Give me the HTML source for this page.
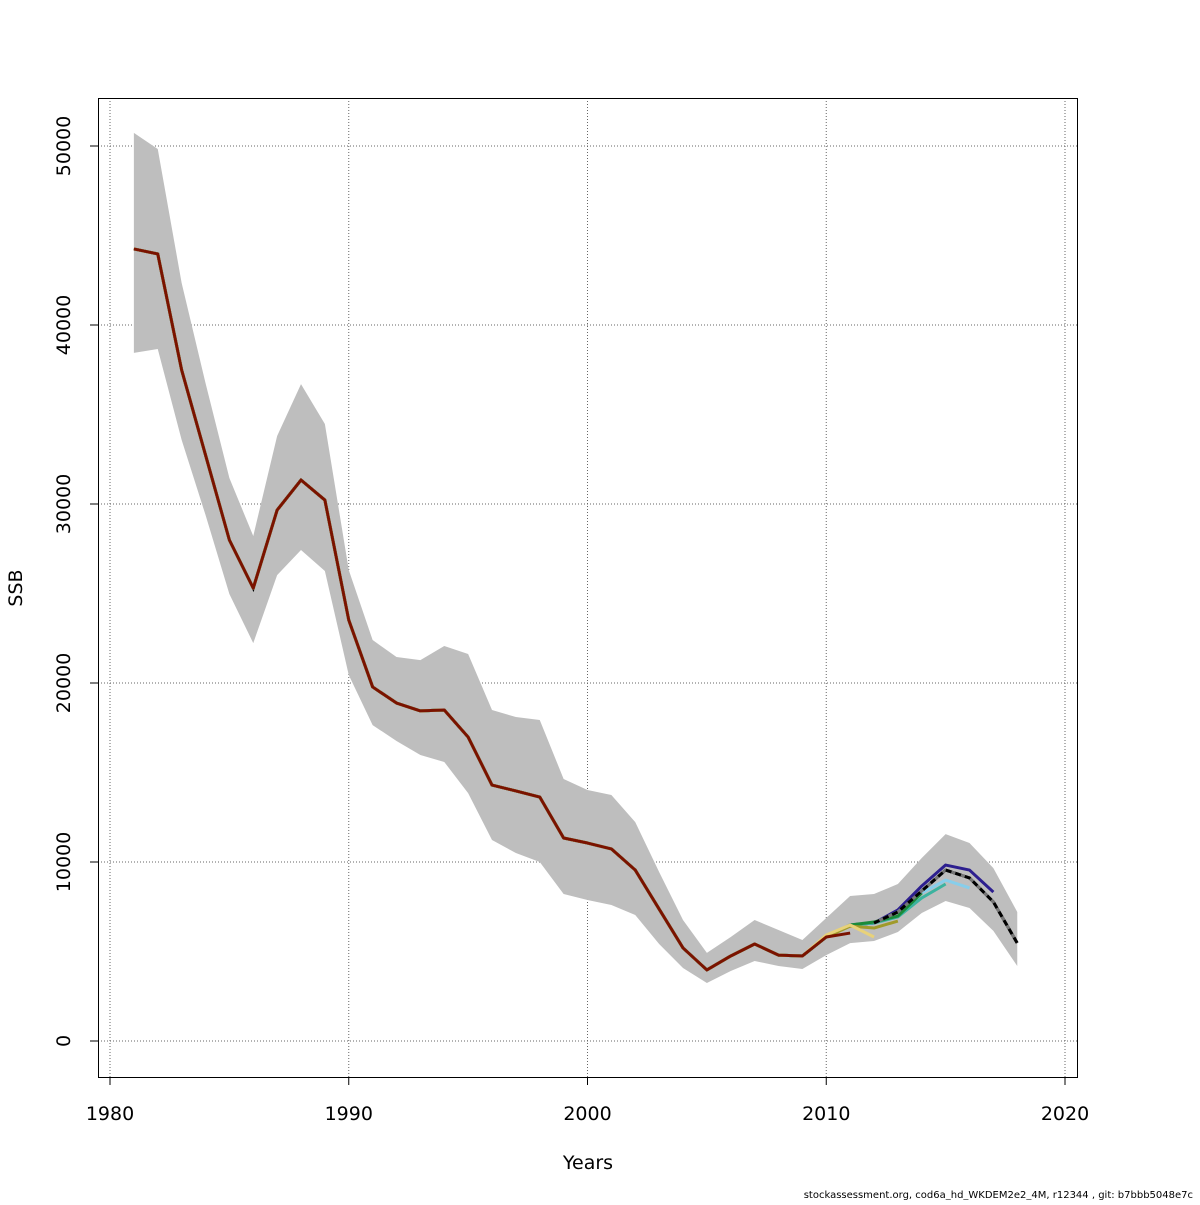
<!DOCTYPE html>
<html><head><meta charset="utf-8"><style>
body{margin:0;background:#fff}
svg text{font-family:"DejaVu Sans","Liberation Sans",sans-serif;fill:#000}
</style></head><body>
<svg id="chart" width="1200" height="1200" xmlns="http://www.w3.org/2000/svg">
<g id="grid"></g>
<g id="band"></g>
<g id="lines"></g>
<rect x="98.5" y="98.5" width="979" height="979" fill="none" stroke="#000" stroke-width="1"/>
<g id="axes"></g>
<text x="588" y="1169" font-size="19" text-anchor="middle">Years</text>
<text transform="translate(22,588) rotate(-90)" font-size="19" text-anchor="middle">SSB</text>
<text x="1193" y="1198" font-size="10" text-anchor="end">stockassessment.org, cod6a_hd_WKDEM2e2_4M, r12344 , git: b7bbb5048e7c</text>
</svg>
<script>
const years=[1981,1982,1983,1984,1985,1986,1987,1988,1989,1990,1991,1992,1993,1994,1995,1996,1997,1998,1999,2000,2001,2002,2003,2004,2005,2006,2007,2008,2009,2010,2011,2012,2013,2014,2015,2016,2017,2018];
const ssb=[44250,43970,37490,32740,27990,25300,29660,31340,30220,23520,19780,18880,18440,18490,16980,14300,13970,13630,11340,11060,10730,9550,7370,5200,3970,4750,5420,4800,4750,5810,6480,6590,7210,8380,9550,9110,7770,5470];
const upper=[50730,49830,42350,36760,31450,28210,33800,36700,34470,26310,22400,21450,21280,22070,21620,18490,18100,17930,14640,14020,13740,12230,9440,6760,4920,5810,6760,6200,5640,6870,8100,8210,8770,10220,11560,11060,9660,7210];
const lower=[38440,38660,33580,29390,24970,22230,26030,27430,26260,20450,17650,16760,15980,15590,13850,11230,10500,10000,8210,7880,7600,7040,5420,4080,3240,3910,4470,4190,4020,4800,5470,5590,6090,7150,7820,7430,6150,4190];
// retrospective peels: end year and tail values (earlier years follow the base run)
const retroEnds=[2017,2016,2015,2014,2013,2012,2011];
const retroTails=[
 [7320,8660,9830,9550,8320],
 [8270,8990,8550],
 [6930,7990,8770],
 [6650,6980,8270],
 [6420,6310,6700],
 [5920,6480,5810],
 [5810,6030]
];
const retroColors=["#2d1f8f","#87ceeb","#3cb39f","#1a8a3a","#a09a2a","#e8d27a","#7a1200"];
const xTicks=[1980,1990,2000,2010,2020];
const yTicks=[0,10000,20000,30000,40000,50000];

const NS="http://www.w3.org/2000/svg";
const X=v=>110+(v-1980)*23.875;
const Y=v=>1041-v*0.0179;
function mk(tag,attrs,parent){const e=document.createElementNS(NS,tag);for(const k in attrs)e.setAttribute(k,attrs[k]);parent.appendChild(e);return e;}
const grid=document.getElementById('grid'),band=document.getElementById('band'),lines=document.getElementById('lines'),axes=document.getElementById('axes');
xTicks.forEach(t=>{
 const l=mk('line',{x1:X(t),x2:X(t),y1:98,y2:1077,stroke:'#666','stroke-dasharray':'1,2'},grid);
 
 
 const tk=mk('line',{x1:X(t),x2:X(t),y1:1077,y2:1085,stroke:'#000'},axes);
 
 
 const tx=mk('text',{x:X(t),y:1120,'font-size':19,'text-anchor':'middle'},axes);tx.textContent=t;
 
 
});
yTicks.forEach(t=>{
 const l=mk('line',{x1:98,x2:1077,y1:Y(t),y2:Y(t),stroke:'#666','stroke-dasharray':'1,2'},grid);
 
 
 const tk=mk('line',{x1:90,x2:98,y1:Y(t),y2:Y(t),stroke:'#000'},axes);
 
 
 const tx=mk('text',{transform:`translate(70,${Y(t)}) rotate(-90)`,'font-size':19,'text-anchor':'middle'},axes);tx.textContent=t;
 
 
});
let pts=years.map((y,i)=>X(y)+','+Y(upper[i]));
for(let i=years.length-1;i>=0;i--)pts.push(X(years[i])+','+Y(lower[i]));
const poly=mk('polygon',{points:pts.join(' '),fill:'#bebebe'},band);


const path=(xs,vs)=>xs.map((y,i)=>(i?'L':'M')+X(y)+','+Y(vs[i])).join(' ');
const b1=mk('path',{d:path(years,ssb),fill:'none',stroke:'#000','stroke-width':3},lines);


retroEnds.forEach((e,k)=>{
 const n=years.indexOf(e)+1,tail=retroTails[k],vals=ssb.slice(0,n-tail.length).concat(tail);
 const p=mk('path',{d:path(years.slice(0,n),vals),fill:'none',stroke:retroColors[k],'stroke-width':3,'stroke-linejoin':'round'},lines);
 
 
});
const b0=mk('path',{d:path(years.slice(31),ssb.slice(31)),fill:'none',stroke:'#777','stroke-width':3},lines);


const b2=mk('path',{d:path(years.slice(31),ssb.slice(31)),fill:'none',stroke:'#000','stroke-width':3,'stroke-dasharray':'6,4'},lines);


</script>
</body></html>
